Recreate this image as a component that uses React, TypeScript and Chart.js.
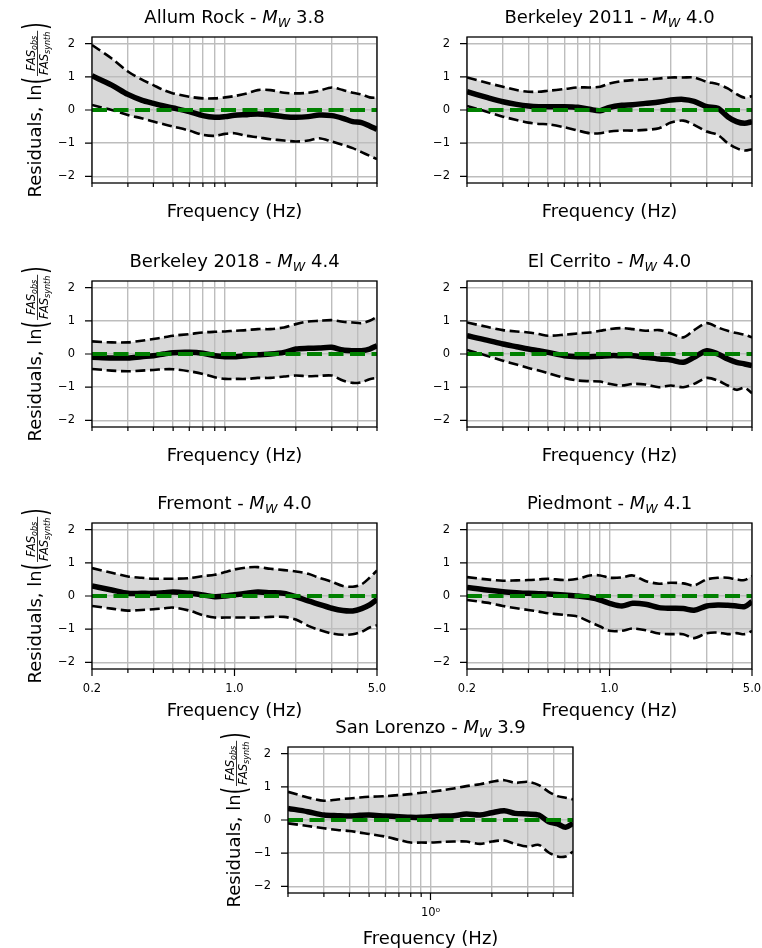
import React, { useEffect, useRef } from "react";
import { Chart, registerables } from "chart.js";

Chart.register(...registerables);

// ---------------- data ----------------
const FREQ = [0.2, 0.25, 0.3, 0.35, 0.4, 0.45, 0.5, 0.6, 0.7, 0.8, 0.9, 1.0, 1.15, 1.3, 1.5, 1.75, 2.0, 2.3, 2.6, 3.0, 3.4, 3.8, 4.2, 4.6, 5.0];

const ALLUM_MEAN = [1.03, 0.75, 0.47, 0.3, 0.2, 0.12, 0.06, -0.05, -0.17, -0.22, -0.2, -0.16, -0.14, -0.12, -0.15, -0.2, -0.22, -0.2, -0.15, -0.17, -0.25, -0.35, -0.38, -0.48, -0.58];
const ALLUM_UPPER = [1.96, 1.55, 1.16, 0.92, 0.75, 0.6, 0.5, 0.4, 0.35, 0.35, 0.38, 0.42, 0.5, 0.6, 0.6, 0.52, 0.5, 0.52, 0.58, 0.68, 0.6, 0.52, 0.47, 0.38, 0.37];
const ALLUM_LOWER = [0.15, 0.0, -0.15, -0.25, -0.35, -0.43, -0.5, -0.62, -0.75, -0.78, -0.72, -0.7, -0.78, -0.82, -0.88, -0.92, -0.95, -0.92, -0.85, -0.95, -1.05, -1.15, -1.27, -1.38, -1.48];

const BERK11_MEAN = [0.55, 0.38, 0.25, 0.17, 0.12, 0.1, 0.1, 0.1, 0.08, 0.02, -0.02, 0.08, 0.14, 0.16, 0.2, 0.24, 0.3, 0.32, 0.26, 0.1, 0.05, -0.2, -0.35, -0.4, -0.35];
const BERK11_UPPER = [0.98, 0.82, 0.7, 0.6, 0.55, 0.55, 0.58, 0.63, 0.68, 0.68, 0.7, 0.8, 0.87, 0.9, 0.92, 0.95, 0.98, 0.98, 0.98, 0.85, 0.78, 0.65, 0.48, 0.37, 0.42];
const BERK11_LOWER = [0.12, -0.05, -0.2, -0.3, -0.38, -0.42, -0.43, -0.52, -0.62, -0.7, -0.7, -0.65, -0.62, -0.62, -0.6, -0.55, -0.38, -0.32, -0.45, -0.65, -0.75, -1.0, -1.15, -1.22, -1.18];

const BERK18_MEAN = [-0.1, -0.12, -0.12, -0.08, -0.05, 0.0, 0.04, 0.05, 0.02, -0.05, -0.08, -0.08, -0.05, -0.02, 0.0, 0.05, 0.15, 0.17, 0.18, 0.2, 0.12, 0.1, 0.1, 0.15, 0.25];
const BERK18_UPPER = [0.38, 0.35, 0.35, 0.4, 0.45, 0.5, 0.55, 0.6, 0.65, 0.67, 0.68, 0.7, 0.72, 0.75, 0.75, 0.8, 0.9, 0.98, 1.0, 1.02, 0.97, 0.95, 0.93, 1.0, 1.12];
const BERK18_LOWER = [-0.45, -0.5, -0.52, -0.5, -0.48, -0.46, -0.46, -0.52, -0.6, -0.7, -0.75, -0.75, -0.75, -0.72, -0.72, -0.68, -0.65, -0.67, -0.66, -0.65, -0.8, -0.87, -0.85, -0.76, -0.72];

const CERRITO_MEAN = [0.55, 0.42, 0.3, 0.22, 0.15, 0.1, 0.05, -0.05, -0.08, -0.08, -0.07, -0.05, -0.05, -0.05, -0.1, -0.15, -0.18, -0.25, -0.1, 0.1, 0.0, -0.15, -0.25, -0.3, -0.35];
const CERRITO_UPPER = [0.95, 0.82, 0.72, 0.68, 0.65, 0.6, 0.55, 0.58, 0.62, 0.65, 0.7, 0.75, 0.78, 0.75, 0.7, 0.72, 0.62, 0.5, 0.72, 0.93, 0.8, 0.7, 0.63, 0.58, 0.5];
const CERRITO_LOWER = [0.12, -0.05, -0.2, -0.32, -0.42, -0.5, -0.58, -0.72, -0.8, -0.82, -0.83, -0.9, -0.95, -0.9, -0.92, -1.0, -0.95, -1.0, -0.9, -0.72, -0.8, -0.95, -1.08, -1.02, -1.18];

const FREMONT_MEAN = [0.3, 0.18, 0.08, 0.08, 0.08, 0.1, 0.12, 0.08, 0.03, -0.02, 0.0, 0.04, 0.08, 0.12, 0.1, 0.08, -0.02, -0.15, -0.25, -0.37, -0.44, -0.45, -0.38, -0.27, -0.1];
const FREMONT_UPPER = [0.84, 0.7, 0.59, 0.55, 0.52, 0.52, 0.52, 0.54, 0.6, 0.64, 0.72, 0.8, 0.86, 0.87, 0.82, 0.78, 0.74, 0.67, 0.55, 0.43, 0.3, 0.28, 0.35, 0.55, 0.77];
const FREMONT_LOWER = [-0.3, -0.38, -0.44, -0.42, -0.4, -0.37, -0.35, -0.44, -0.58, -0.65, -0.65, -0.65, -0.65, -0.65, -0.63, -0.63, -0.71, -0.9, -1.02, -1.13, -1.17, -1.15, -1.08, -0.95, -0.88];

const PIEDMONT_MEAN = [0.26, 0.18, 0.13, 0.1, 0.08, 0.07, 0.06, 0.03, 0.0, -0.05, -0.12, -0.22, -0.3, -0.22, -0.25, -0.35, -0.37, -0.38, -0.43, -0.3, -0.27, -0.28, -0.3, -0.32, -0.17];
const PIEDMONT_UPPER = [0.57, 0.5, 0.46, 0.47, 0.48, 0.5, 0.52, 0.48, 0.52, 0.62, 0.62, 0.55, 0.56, 0.62, 0.45, 0.37, 0.4, 0.38, 0.32, 0.5, 0.55, 0.55, 0.5, 0.48, 0.6];
const PIEDMONT_LOWER = [-0.12, -0.2, -0.3, -0.37, -0.42, -0.47, -0.52, -0.57, -0.62, -0.78, -0.92, -1.05, -1.05, -0.98, -1.03, -1.13, -1.15, -1.15, -1.27, -1.12, -1.1, -1.15, -1.12, -1.15, -1.05];

const LORENZO_MEAN = [0.35, 0.25, 0.15, 0.13, 0.12, 0.14, 0.15, 0.12, 0.1, 0.08, 0.08, 0.1, 0.12, 0.13, 0.18, 0.15, 0.22, 0.28, 0.2, 0.18, 0.15, -0.05, -0.12, -0.22, -0.1];
const LORENZO_UPPER = [0.85, 0.68, 0.58, 0.62, 0.65, 0.68, 0.7, 0.72, 0.75, 0.78, 0.82, 0.85, 0.9, 0.95, 1.02, 1.08, 1.15, 1.2, 1.12, 1.15, 1.05, 0.85, 0.72, 0.67, 0.62];
const LORENZO_LOWER = [-0.1, -0.18, -0.25, -0.3, -0.33, -0.38, -0.42, -0.5, -0.6, -0.68, -0.68, -0.68, -0.66, -0.65, -0.65, -0.72, -0.65, -0.62, -0.72, -0.8, -0.75, -0.98, -1.1, -1.1, -0.95];

const REF_LEVEL = 0;
const Y_TICKS = [-2, -1, 0, 1, 2];
const X_MINOR_TICKS = [0.2, 0.3, 0.4, 0.5, 0.6, 0.7, 0.8, 0.9, 2, 3, 4, 5];
const X_FIXED_TICKS = [0.2, 1.0, 5.0];
const X_FIXED_LABELS = ["0.2", "1.0", "5.0"];
const X_LOG_TICKS = [1.0];
const X_LOG_LABELS = ["10\u2070"];

type XMode = "none" | "fixed" | "log";
interface Panel {
  name: string;
  mag: string;
  left: number;
  top: number;
  yLabel: boolean;
  yLabelOff: number;
  xMode: XMode;
  mean: number[];
  upper: number[];
  lower: number[];
}

const PANELS: Panel[] = [
  { name: "Allum Rock", mag: "3.8", left: 92, top: 37, yLabel: true, yLabelOff: 51, xMode: "none", mean: ALLUM_MEAN, upper: ALLUM_UPPER, lower: ALLUM_LOWER },
  { name: "Berkeley 2011", mag: "4.0", left: 467, top: 37, yLabel: false, yLabelOff: 51, xMode: "none", mean: BERK11_MEAN, upper: BERK11_UPPER, lower: BERK11_LOWER },
  { name: "Berkeley 2018", mag: "4.4", left: 92, top: 281, yLabel: true, yLabelOff: 51, xMode: "none", mean: BERK18_MEAN, upper: BERK18_UPPER, lower: BERK18_LOWER },
  { name: "El Cerrito", mag: "4.0", left: 467, top: 281, yLabel: false, yLabelOff: 51, xMode: "none", mean: CERRITO_MEAN, upper: CERRITO_UPPER, lower: CERRITO_LOWER },
  { name: "Fremont", mag: "4.0", left: 92, top: 523, yLabel: true, yLabelOff: 51, xMode: "fixed", mean: FREMONT_MEAN, upper: FREMONT_UPPER, lower: FREMONT_LOWER },
  { name: "Piedmont", mag: "4.1", left: 467, top: 523, yLabel: false, yLabelOff: 51, xMode: "fixed", mean: PIEDMONT_MEAN, upper: PIEDMONT_UPPER, lower: PIEDMONT_LOWER },
  { name: "San Lorenzo", mag: "3.9", left: 288, top: 747, yLabel: true, yLabelOff: 48, xMode: "log", mean: LORENZO_MEAN, upper: LORENZO_UPPER, lower: LORENZO_LOWER },
];

// ---------------- layout constants ----------------
const CW = 400;
const CH = 250;
const AX = 92;
const AY = 40;
const PW = 285;
const PH = 146;
const YW = 60;
const XH = 30;
const FONT = "'DejaVu Sans'";
const GRID_COLOR = "#bdbdbd";
const GRID_WIDTH = 1.4;

function xTickValues(p: Panel): number[] {
  const base = X_MINOR_TICKS.slice();
  if (p.xMode !== "none") base.push(1.0);
  return base.sort((a, b) => a - b);
}
function isMajor(p: Panel, v: number): boolean {
  if (p.xMode === "fixed") return X_FIXED_TICKS.some((t) => Math.abs(t - v) < 1e-9);
  if (p.xMode === "log") return X_LOG_TICKS.some((t) => Math.abs(t - v) < 1e-9);
  return false;
}
function xLabel(p: Panel, v: number): string {
  if (p.xMode === "fixed") {
    const i = X_FIXED_TICKS.findIndex((t) => Math.abs(t - v) < 1e-9);
    return i >= 0 ? X_FIXED_LABELS[i] : "";
  }
  if (p.xMode === "log") {
    const i = X_LOG_TICKS.findIndex((t) => Math.abs(t - v) < 1e-9);
    return i >= 0 ? X_LOG_LABELS[i] : "";
  }
  return "";
}

function drawTitle(ctx: CanvasRenderingContext2D, cx: number, baseY: number, p: Panel) {
  const parts = [
    { t: p.name + " - ", f: `18px ${FONT}`, dy: 0 },
    { t: "M", f: `italic 18px ${FONT}`, dy: 0 },
    { t: "W", f: `italic 12.6px ${FONT}`, dy: 3.5 },
    { t: " " + p.mag, f: `18px ${FONT}`, dy: 0 },
  ];
  let total = 0;
  const widths: number[] = [];
  for (const part of parts) {
    ctx.font = part.f;
    const w = ctx.measureText(part.t).width;
    widths.push(w);
    total += w;
  }
  let x = cx - total / 2;
  ctx.textAlign = "left";
  ctx.textBaseline = "alphabetic";
  parts.forEach((part, i) => {
    ctx.font = part.f;
    ctx.fillText(part.t, x, baseY + part.dy);
    x += widths[i];
  });
}

function drawYLabel(ctx: CanvasRenderingContext2D, bx: number, cy: number) {
  ctx.save();
  ctx.translate(bx, cy);
  ctx.rotate(-Math.PI / 2);
  ctx.textAlign = "left";
  ctx.textBaseline = "alphabetic";
  const main = `18px ${FONT}`;
  const fr = `italic 11.5px ${FONT}`;
  const sb = `italic 8px ${FONT}`;
  const pf = `34px ${FONT}`;
  const S1 = "Residuals, ln";
  ctx.font = main;
  const w1 = ctx.measureText(S1).width;
  ctx.font = fr;
  const wFAS = ctx.measureText("FAS").width;
  ctx.font = sb;
  const wObs = ctx.measureText("obs").width;
  const wSyn = ctx.measureText("synth").width;
  const wNum = wFAS + wObs;
  const wDen = wFAS + wSyn;
  const wFrac = Math.max(wNum, wDen) + 2;
  ctx.font = pf;
  const sx = 0.55;
  const wp = ctx.measureText("(").width * sx;
  const total = w1 + wp + wFrac + wp + 2;
  let x = -total / 2;
  ctx.font = main;
  ctx.fillText(S1, x, 0);
  x += w1;
  ctx.save();
  ctx.translate(x, 6);
  ctx.scale(sx, 1);
  ctx.font = pf;
  ctx.fillText("(", 0, 0);
  ctx.restore();
  x += wp + 1;
  const barY = -3.5;
  ctx.fillRect(x, barY - 0.4, wFrac, 0.8);
  const nx = x + (wFrac - wNum) / 2;
  const numBase = barY - 2.5;
  ctx.font = fr;
  ctx.fillText("FAS", nx, numBase);
  ctx.font = sb;
  ctx.fillText("obs", nx + wFAS, numBase + 2);
  const dx = x + (wFrac - wDen) / 2;
  const denBase = barY + 2.5 + 8.4;
  ctx.font = fr;
  ctx.fillText("FAS", dx, denBase);
  ctx.font = sb;
  ctx.fillText("synth", dx + wFAS, denBase + 2);
  x += wFrac + 1;
  ctx.save();
  ctx.translate(x, 6);
  ctx.scale(sx, 1);
  ctx.font = pf;
  ctx.fillText(")", 0, 0);
  ctx.restore();
  ctx.restore();
}

function makeDecor(p: Panel) {
  return {
    id: "decor",
    afterDraw(chart: any) {
      const { ctx, chartArea: a, scales } = chart;
      ctx.save();
      ctx.strokeStyle = "#000";
      ctx.fillStyle = "#000";
      ctx.lineWidth = 1.3;
      ctx.strokeRect(a.left, a.top, a.right - a.left, a.bottom - a.top);
      ctx.lineWidth = 1.2;
      ctx.beginPath();
      for (const v of Y_TICKS) {
        const y = scales.y.getPixelForValue(v);
        ctx.moveTo(a.left - 7, y);
        ctx.lineTo(a.left, y);
      }
      for (const v of xTickValues(p)) {
        const x = scales.x.getPixelForValue(v);
        const len = isMajor(p, v) ? 7 : 4;
        ctx.moveTo(x, a.bottom);
        ctx.lineTo(x, a.bottom + len);
      }
      ctx.stroke();
      const cx = (a.left + a.right) / 2;
      drawTitle(ctx, cx, a.top - 14, p);
      ctx.font = `18px ${FONT}`;
      ctx.textAlign = "center";
      ctx.textBaseline = "alphabetic";
      const off = p.xMode === "none" ? 33.5 : p.xMode === "fixed" ? 47 : 50.5;
      ctx.fillText("Frequency (Hz)", cx, a.bottom + off);
      if (p.yLabel) drawYLabel(ctx, a.left - p.yLabelOff, (a.top + a.bottom) / 2);
      ctx.restore();
    },
  };
}

function pts(vals: number[]) {
  return FREQ.map((f, i) => ({ x: f, y: vals[i] }));
}

function buildConfig(p: Panel): any {
  const xt = xTickValues(p);
  return {
    type: "line",
    data: {
      datasets: [
        {
          label: "upper",
          data: pts(p.upper),
          borderColor: "#000",
          borderWidth: 2.6,
          borderDash: [10, 4.5],
          backgroundColor: "#d8d8d8",
          fill: "+1",
          pointRadius: 0,
          tension: 0.3,
          order: 2,
          clip: 0,
        },
        {
          label: "lower",
          data: pts(p.lower),
          borderColor: "#000",
          borderWidth: 2.6,
          borderDash: [10, 4.5],
          fill: false,
          pointRadius: 0,
          tension: 0.3,
          order: 3,
          clip: 0,
        },
        {
          label: "mean",
          data: pts(p.mean),
          borderColor: "#000",
          borderWidth: 5.5,
          fill: false,
          pointRadius: 0,
          tension: 0.3,
          order: 1,
          clip: 0,
        },
        {
          label: "zero",
          data: [
            { x: FREQ[0], y: REF_LEVEL },
            { x: FREQ[FREQ.length - 1], y: REF_LEVEL },
          ],
          borderColor: "#008000",
          borderWidth: 4,
          borderDash: [15, 6.5],
          fill: false,
          pointRadius: 0,
          order: 0,
          clip: 0,
        },
      ],
    },
    options: {
      animation: false,
      responsive: false,
      devicePixelRatio: 1,
      events: [],
      layout: {
        padding: { left: AX - YW, top: AY, right: CW - AX - PW, bottom: CH - AY - PH - XH },
      },
      plugins: {
        legend: { display: false },
        title: { display: false },
        tooltip: { enabled: false },
        filler: { drawTime: "beforeDraw" },
      },
      scales: {
        x: {
          type: "logarithmic",
          min: 0.2,
          max: 5,
          bounds: "data",
          afterBuildTicks: (s: any) => {
            s.ticks = xt.map((v) => ({ value: v }));
          },
          afterFit: (s: any) => {
            s.height = XH;
          },
          grid: { color: GRID_COLOR, lineWidth: GRID_WIDTH, drawTicks: false },
          border: { display: false },
          ticks: {
            autoSkip: false,
            maxRotation: 0,
            minRotation: 0,
            padding: 13.5,
            color: "#000",
            font: { family: FONT, size: 11.5 },
            callback: (v: any) => xLabel(p, Number(v)),
          },
        },
        y: {
          type: "linear",
          min: -2.2,
          max: 2.2,
          bounds: "data",
          afterBuildTicks: (s: any) => {
            s.ticks = Y_TICKS.map((v) => ({ value: v }));
          },
          afterFit: (s: any) => {
            s.width = YW;
          },
          grid: { color: GRID_COLOR, lineWidth: GRID_WIDTH, drawTicks: false },
          border: { display: false },
          ticks: {
            padding: 17,
            color: "#000",
            font: { family: FONT, size: 11.5 },
            callback: (v: any) => {
              const n = Number(v);
              return n < 0 ? "\u2212" + Math.abs(n) : String(n);
            },
          },
        },
      },
    },
    plugins: [makeDecor(p)],
  };
}

function PanelChart({ p }: { p: Panel }) {
  const ref = useRef<HTMLCanvasElement>(null);
  useEffect(() => {
    const canvas = ref.current;
    if (!canvas) return;
    const chart = new Chart(canvas, buildConfig(p));
    return () => chart.destroy();
  }, [p]);
  return (
    <canvas
      ref={ref}
      width={CW}
      height={CH}
      style={{ position: "absolute", left: p.left - AX, top: p.top - AY, width: CW, height: CH }}
    />
  );
}

export default function App() {
  return (
    <div
      style={{
        position: "absolute",
        left: 0,
        top: 0,
        width: 762,
        height: 948,
        overflow: "hidden",
        background: "#fff",
      }}
    >
      {PANELS.map((p) => (
        <PanelChart key={p.name} p={p} />
      ))}
    </div>
  );
}
